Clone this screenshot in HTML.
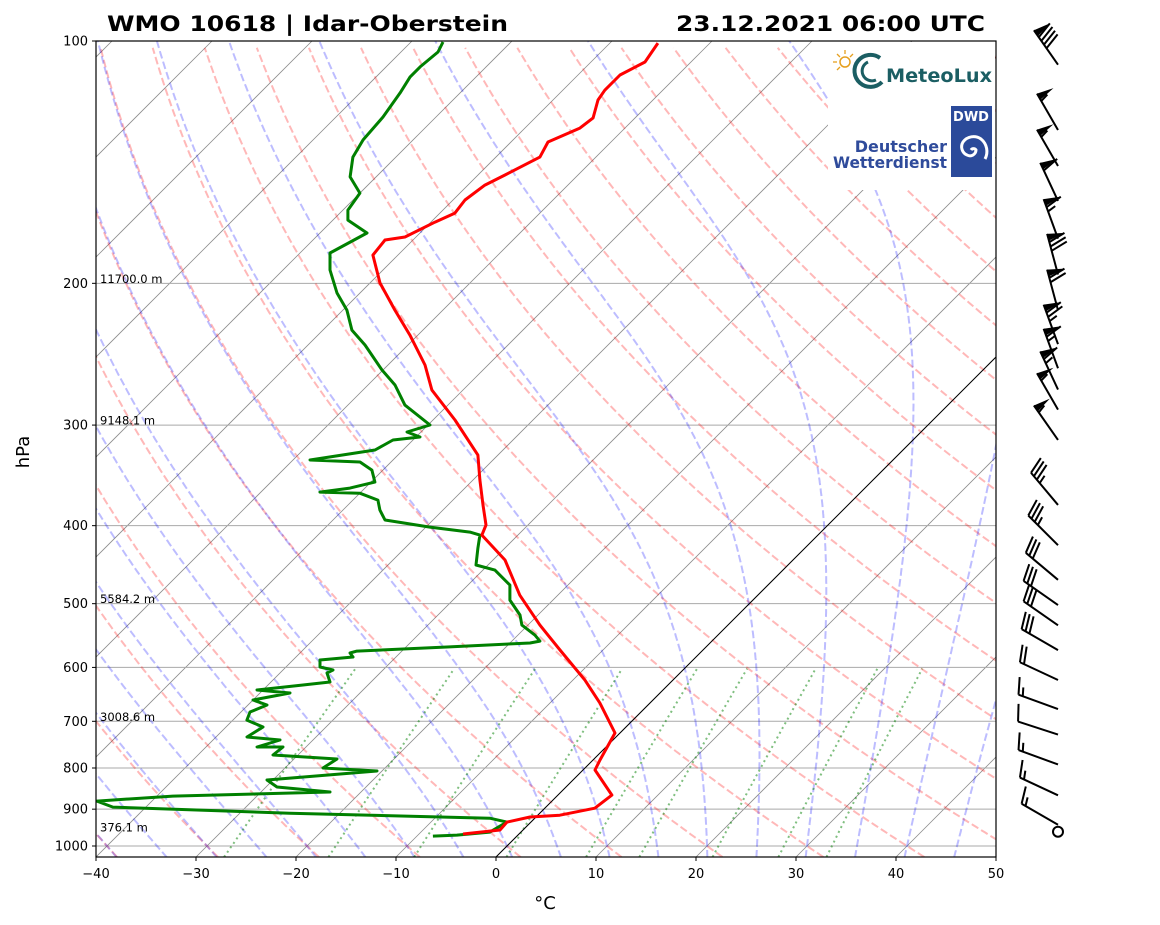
<!DOCTYPE html>
<html><head><meta charset="utf-8">
<style>
html,body{margin:0;padding:0;background:#fff;}
svg{display:block;font-family:"DejaVu Sans","Liberation Sans",sans-serif;}
</style></head>
<body>
<svg id="chart" width="1160" height="925" viewBox="0 0 1160 925" xmlns="http://www.w3.org/2000/svg">
  <defs><clipPath id="plotclip"><rect x="96" y="41" width="900" height="816"/></clipPath></defs>
  <text x="107" y="31" font-size="21" font-weight="bold" textLength="401" lengthAdjust="spacingAndGlyphs">WMO 10618 | Idar-Oberstein</text>
  <text x="676" y="31" font-size="21" font-weight="bold" textLength="309" lengthAdjust="spacingAndGlyphs">23.12.2021 06:00 UTC</text>
  <g id="grid" clip-path="url(#plotclip)"></g>
  <g id="logos">
    <rect x="828" y="42" width="167" height="148" fill="#fff"/>
    <g>
      <circle cx="845" cy="62" r="5" fill="none" stroke="#e6a020" stroke-width="1.5"/>
      <g stroke="#e6a020" stroke-width="1.3">
        <line x1="845" y1="50" x2="845" y2="54"/><line x1="833" y1="62" x2="837" y2="62"/>
        <line x1="837" y1="54" x2="840" y2="57"/><line x1="853" y1="54" x2="850" y2="57"/>
        <line x1="837" y1="70" x2="840" y2="67"/>
      </g>
      <path d="M880 58 A16 16 0 1 0 882 82" fill="none" stroke="#1b5e63" stroke-width="4"/>
      <path d="M868 62 A9 9 0 1 0 876 80" fill="none" stroke="#1b5e63" stroke-width="3"/>
      <text x="886" y="82" font-size="19" font-weight="bold" fill="#1b5e63" textLength="106" lengthAdjust="spacingAndGlyphs">MeteoLux</text>
    </g>
    <g>
      <text x="947" y="152" font-size="16" font-weight="bold" fill="#2f4b9b" text-anchor="end">Deutscher</text>
      <text x="947" y="168" font-size="16" font-weight="bold" fill="#2f4b9b" text-anchor="end" textLength="114" lengthAdjust="spacingAndGlyphs">Wetterdienst</text>
      <rect x="951" y="106" width="41" height="71" fill="#2b4a9a"/>
      <text x="971" y="121" font-size="13" font-weight="bold" fill="#fff" text-anchor="middle">DWD</text>
      <path d="M971 150 m0 0 a3 3 0 0 1 5 0 a6 6 0 0 1 -9 5 a9 9 0 0 1 -4 -13 a13 13 0 0 1 18 -3 a16 16 0 0 1 4 20" fill="none" stroke="#fff" stroke-width="3"/>
    </g>
  </g>
  <g id="labels"></g>
  <g id="profiles" clip-path="url(#plotclip)"></g>
  <g id="axes"></g>
  <g id="barbs"></g>
  <text x="0" y="0" font-size="18" text-anchor="middle" transform="translate(29,452) rotate(-90)">hPa</text>
  <text x="545" y="909" font-size="18" text-anchor="middle">°C</text>
</svg>
<script>
// ---- data ----
const tempPressure = [100.6,106.2,110.2,115.1,118.4,124.6,128.3,133.5,139.4,146.7,151.0,157.6,163.6,167.9,175.2,176.7,184.5,199.8,215.9,231.9,252.6,271.4,295.7,326.9,351.1,377.0,399.2,410.9,441.3,488.0,531.6,570.8,622.1,664.4,723.9,782.0,804.7,864.6,897.4,915.6,920.4,933.9,955.2,966.3];
const tempValues = [-65.2,-64.6,-65.8,-65.8,-65.5,-64.2,-64.5,-66.3,-65.6,-67.3,-68.3,-68.8,-68.5,-69.6,-71.1,-72.8,-72.5,-69.0,-64.8,-60.8,-56.3,-53.1,-47.8,-42.0,-39.3,-36.5,-34.2,-33.6,-28.8,-23.8,-18.8,-14.3,-8.8,-5.0,-0.5,0.7,1.2,5.4,5.0,2.2,-0.6,-2.4,-2.3,-5.6];
const dewPressure = [100.3,103.2,107.7,110.8,116.0,124.3,132.7,139.4,147.5,154.5,162.2,166.9,173.2,183.4,192.5,205.6,215.9,228.6,238.6,256.3,267.5,283.3,299.9,306.0,310.4,313.1,322.2,331.5,333.4,341.2,353.1,359.3,363.4,364.5,371.8,382.6,393.6,401.6,407.4,410.9,426.5,447.7,454.2,474.1,494.9,516.4,531.6,547.0,556.5,559.6,566.0,572.6,575.8,582.4,587.4,599.3,604.5,609.7,625.6,631.0,640.1,645.6,658.7,668.2,681.7,697.5,711.6,732.2,738.5,753.4,753.4,770.9,779.7,800.1,807.0,828.0,844.8,857.0,866.9,879.4,894.7,910.4,923.5,933.9,961.0,969.3,972.2];
const dewValues = [-86.8,-86.3,-86.6,-86.6,-86.0,-85.3,-85.0,-84.3,-82.6,-80.0,-79.5,-78.5,-75.3,-77.0,-75.3,-72.3,-69.6,-67.1,-64.3,-60.1,-57.3,-54.3,-49.8,-51.4,-49.6,-52.0,-52.8,-58.3,-53.1,-51.1,-49.6,-51.5,-54.1,-50.0,-47.5,-46.3,-44.8,-39.6,-35.1,-33.8,-32.7,-31.2,-28.8,-25.8,-24.3,-21.8,-20.6,-18.3,-17.2,-18.0,-25.9,-34.5,-35.0,-34.3,-37.3,-36.6,-35.0,-35.3,-34.1,-36.5,-40.6,-37.0,-40.0,-38.1,-39.1,-38.6,-36.3,-36.9,-33.3,-34.9,-32.3,-32.5,-25.7,-26.2,-20.5,-30.6,-28.9,-23.1,-38.4,-45.5,-43.3,-25.0,-4.5,-2.4,-3.1,-6.1,-8.4];
const windPressure = [107,129,143,158,176,195,216,238,255,271,287,313,377,423,467,502,532,571,622,676,727,792,865,941,960];
const windSpeed = [90,55,55,60,65,80,70,75,65,65,55,55,35,35,30,30,30,30,20,15,10,15,15,15,0];
const windDir = [325,330,330,335,340,345,345,340,340,335,330,325,320,315,310,305,305,300,295,290,288,290,295,300,0];
const pressureTicks = [100,200,300,400,500,600,700,800,900,1000];
const tempTicks = [-40,-30,-20,-10,0,10,20,30,40,50];
const heightLabels = ["11700.0 m","9148.1 m","5584.2 m","3008.6 m","376.1 m"];
const heightPressures = [200,300,500,700,961];
const mixingRatios = [0.0004,0.001,0.002,0.004,0.007,0.01,0.016,0.024,0.032];

// ---- scales ----
const X0=96, X1=996, YT=41, YB=857, DEC=805;
function yOf(p){return YT+DEC*Math.log10(p/100);}
function xOf(T,p){return X0+(T+40)*10+(YB-yOf(p));}
const pBot=100*Math.pow(10,(YB-YT)/DEC);
const NS="http://www.w3.org/2000/svg";
function mk(tag,attrs,parent){const e=document.createElementNS(NS,tag);for(const k in attrs)e.setAttribute(k,attrs[k]);parent.appendChild(e);return e;}
function pathFrom(pts){return pts.map((q,i)=>(i?'L':'M')+q[0].toFixed(1)+' '+q[1].toFixed(1)).join('');}

const grid=document.getElementById('grid');
for(let T=-160;T<=50;T+=10){
  const l=mk('line',{x1:xOf(T,pBot),y1:YB,x2:xOf(T,100),y2:YT,stroke:'#8c8c8c','stroke-width':0.8},grid);
  
  
}
pressureTicks.forEach(p=>{
  const l=mk('line',{x1:X0,y1:yOf(p),x2:X1,y2:yOf(p),stroke:'#a9a9a9','stroke-width':1},grid);
  
  
});
for(let th=233.15;th<=483.2;th+=10){
  const pts=[];
  for(let p=pBot;p>=99;p-=5){const T=th*Math.pow(p/1000,0.2857)-273.15;pts.push([xOf(T,p),yOf(p)]);}
  const e=mk('path',{d:pathFrom(pts),fill:'none',stroke:'#ff0000','stroke-opacity':0.28,'stroke-width':2,'stroke-dasharray':'7.7,3.3'},grid);
  
  
}
const Rd=287.04,Cp=1005.7,Lv=2.501e6,EPS=0.622;
function dTdp(T,p){const es=6.112*Math.exp(17.67*(T-273.15)/(T-29.65));const rs=EPS*es/(p-es);return (1/p)*(Rd*T+Lv*rs)/(Cp+Lv*Lv*rs*EPS/(Rd*T*T));}
function integ(T,p0,p1,dp){const out=[[p0,T]];let p=p0;const s=p1<p0?-dp:dp;while((s<0&&p>p1)||(s>0&&p<p1)){const k1=dTdp(T,p);const k2=dTdp(T+k1*s,p+s);T+=0.5*(k1+k2)*s;p+=s;out.push([p,T]);}return out;}
for(let t0=-40;t0<=45;t0+=5){
  const up=integ(t0+273.15,1000,100,2);
  const dn=integ(t0+273.15,1000,pBot+1,2);
  const all=dn.reverse().concat(up.slice(1));
  const pts=all.map(a=>[xOf(a[1]-273.15,a[0]),yOf(a[0])]);
  const e=mk('path',{d:pathFrom(pts),fill:'none',stroke:'#0000ff','stroke-opacity':0.26,'stroke-width':2,'stroke-dasharray':'7.7,3.3'},grid);
  
  
}
mixingRatios.forEach(w=>{
  const pts=[];
  for(let p=pBot;p>=600;p-=5){const e=p*w/(EPS+w);const a=Math.log(e/6.112);const Td=243.5*a/(17.67-a);pts.push([xOf(Td,p),yOf(p)]);}
  const e=mk('path',{d:pathFrom(pts),fill:'none',stroke:'#008000','stroke-opacity':0.5,'stroke-width':2,'stroke-dasharray':'2,3.4'},grid);
  
  
});
const z=mk('line',{x1:xOf(0,pBot),y1:YB,x2:xOf(0,100),y2:YT,stroke:'#000','stroke-width':1},grid);



const lab=document.getElementById('labels');
heightLabels.forEach((t,i)=>{
  const e=mk('text',{x:100,y:yOf(heightPressures[i])-0.5,'font-size':11.5},lab);
  e.textContent=t;
  
  
});

const prof=document.getElementById('profiles');
const dew=mk('path',{d:pathFrom(dewPressure.map((p,i)=>[xOf(dewValues[i],p),yOf(p)])),fill:'none',stroke:'#008000','stroke-width':3,'stroke-linejoin':'round'},prof);


const tmp=mk('path',{d:pathFrom(tempPressure.map((p,i)=>[xOf(tempValues[i],p),yOf(p)])),fill:'none',stroke:'#ff0000','stroke-width':3,'stroke-linejoin':'round'},prof);



const ax=document.getElementById('axes');
const fr=mk('rect',{x:X0,y:YT,width:X1-X0,height:YB-YT,fill:'none',stroke:'#000','stroke-width':1.2},ax);


pressureTicks.forEach(p=>{
  const y=yOf(p);
  mk('line',{x1:X0-4,y1:y,x2:X0,y2:y,stroke:'#000','stroke-width':1},ax);
  const t=mk('text',{x:X0-8,y:y+4.5,'font-size':13,'text-anchor':'end'},ax);
  t.textContent=String(p);
  
  
});
tempTicks.forEach(T=>{
  const x=X0+(T+40)*10;
  mk('line',{x1:x,y1:YB,x2:x,y2:YB+4,stroke:'#000','stroke-width':1},ax);
  const t=mk('text',{x:x,y:YB+21,'font-size':13,'text-anchor':'middle'},ax);
  t.textContent=(T<0?'\u2212':'')+Math.abs(T);
  
  
});

const bg=document.getElementById('barbs');
const BX=1058, L=42;
windPressure.forEach((p,i)=>{
  const by=yOf(p);
  const g=mk('g',{},bg);
  
  
  let spd=windSpeed[i];
  if(spd<2.5){mk('circle',{cx:BX,cy:by,r:5,fill:'none',stroke:'#000','stroke-width':2},g);return;}
  const r=windDir[i]*Math.PI/180;
  const dx=Math.sin(r), dy=-Math.cos(r);
  const nx=-dy, ny=dx;
  const tx=BX+dx*L, ty=by+dy*L;
  mk('line',{x1:BX,y1:by,x2:tx,y2:ty,stroke:'#000','stroke-width':2},g);
  let off=0;
  spd=Math.round(spd/5)*5;
  let flags=Math.floor(spd/50); spd-=flags*50;
  let full=Math.floor(spd/10); spd-=full*10;
  let half=spd>=5?1:0;
  const H=17;
  for(let k=0;k<flags;k++){
    const ax1=tx-dx*off, ay1=ty-dy*off;
    const ax2=tx-dx*(off+7), ay2=ty-dy*(off+7);
    const px=ax1-dx*3.5+nx*H, py=ay1-dy*3.5+ny*H;
    mk('polygon',{points:`${ax1},${ay1} ${px},${py} ${ax2},${ay2}`,fill:'#000'},g);
    off+=8.5;
  }
  for(let k=0;k<full;k++){
    const sx=tx-dx*off, sy=ty-dy*off;
    mk('line',{x1:sx,y1:sy,x2:sx+nx*H+dx*5,y2:sy+ny*H+dy*5,stroke:'#000','stroke-width':2},g);
    off+=4.5;
  }
  if(half){
    if(flags===0&&full===0)off+=4.5;
    const sx=tx-dx*off, sy=ty-dy*off;
    mk('line',{x1:sx,y1:sy,x2:sx+nx*H/2+dx*2.5,y2:sy+ny*H/2+dy*2.5,stroke:'#000','stroke-width':2},g);
  }
});
</script>
</body></html>
